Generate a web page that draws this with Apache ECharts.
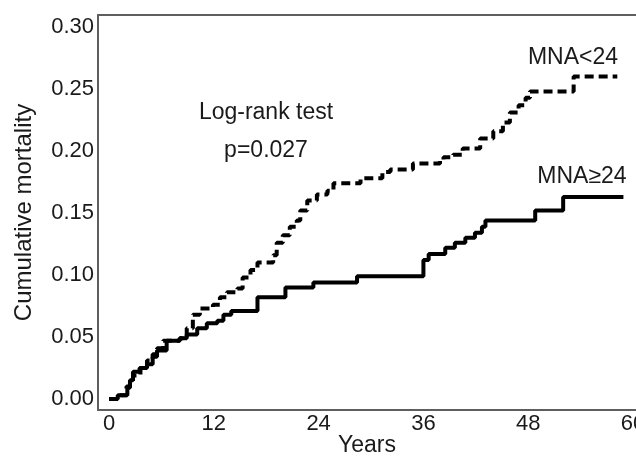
<!DOCTYPE html>
<html>
<head>
<meta charset="utf-8">
<script src="https://cdn.jsdelivr.net/npm/echarts@6/dist/echarts.min.js"></script>
<style>
html,body{margin:0;padding:0;background:#fff;}
#chart{width:636px;height:457px;}
</style>
</head>
<body>
<div id="chart"></div>
<script>
// Tick labels
var xTicks = [0, 12, 24, 36, 48, 60];
var yTicks = [0, 0.05, 0.10, 0.15, 0.20, 0.25, 0.30];

// MNA>=24 (solid) : event times (months) and cumulative mortality
var highTimes = [0, 1.0, 2.1, 2.4, 2.75, 3.5, 4.35, 5.0, 5.5, 6.6, 8.1, 8.9, 10.1, 11.2, 12.4, 13.1, 14.0, 17.0, 20.2, 23.4, 28.4, 36.0, 36.6, 38.5, 39.6, 40.8, 41.9, 42.7, 43.1, 48.8, 52.0, 58.9];
var highValues = [0, 0.003, 0.009, 0.015, 0.022, 0.025, 0.028, 0.034, 0.039, 0.047, 0.049, 0.052, 0.057, 0.061, 0.063, 0.068, 0.071, 0.082, 0.090, 0.094, 0.099, 0.112, 0.117, 0.122, 0.126, 0.130, 0.134, 0.139, 0.144, 0.152, 0.163, 0.163];

// MNA<24 (dashed)
var lowTimes = [0, 1.3, 2.0, 2.4, 2.75, 3.6, 4.35, 5.0, 5.5, 6.2, 8.1, 8.9, 9.6, 10.4, 11.9, 12.7, 13.5, 14.7, 15.3, 16.2, 17.0, 18.8, 19.2, 19.9, 20.7, 21.5, 21.9, 22.7, 23.8, 25.0, 25.7, 28.8, 31.3, 32.2, 34.8, 37.9, 38.3, 39.4, 40.5, 42.5, 44.0, 45.1, 45.9, 46.9, 47.7, 48.2, 53.2, 58.2];
var lowValues = [0, 0.003, 0.010, 0.014, 0.019, 0.025, 0.031, 0.036, 0.041, 0.047, 0.049, 0.057, 0.068, 0.073, 0.076, 0.082, 0.086, 0.089, 0.098, 0.104, 0.110, 0.116, 0.126, 0.132, 0.139, 0.144, 0.152, 0.160, 0.165, 0.168, 0.174, 0.178, 0.183, 0.185, 0.190, 0.193, 0.195, 0.197, 0.202, 0.210, 0.216, 0.223, 0.231, 0.237, 0.243, 0.248, 0.260, 0.260];

var seriesNames = ['MNA<24', 'MNA\u226524'];
var testTitle = 'Log-rank test';
var testP = 'p=0.027';

function pairs(t, v) { return t.map(function (x, i) { return [x, v[i]]; }); }

var FONT = '"Liberation Sans", Arial, sans-serif';
var TXT = '#1a1a1a';
var AX = '#5e5e5e';

var chart = echarts.init(document.getElementById('chart'), null, {renderer: 'canvas'});
chart.setOption({
  animation: false,
  backgroundColor: '#fff',
  grid: {left: 98, right: 0, top: 15, bottom: 47, containLabel: false, outerBoundsMode: 'none'},
  xAxis: [{
    type: 'value', min: -1.26, max: 60.34,
    name: 'Years', nameLocation: 'middle', nameGap: 24, nameMoveOverlap: false,
    nameTextStyle: {fontFamily: FONT, fontSize: 23, color: TXT},
    axisLine: {show: true, onZero: false, lineStyle: {color: AX, width: 2}},
    axisTick: {show: false},
    splitLine: {show: false},
    axisLabel: {customValues: xTicks, margin: 3, fontFamily: FONT, fontSize: 22, color: TXT, showMinLabel: true, showMaxLabel: true, hideOverlap: false}
  }, {
    type: 'value', position: 'top', min: -1.26, max: 60.34,
    axisLine: {show: true, onZero: false, lineStyle: {color: AX, width: 2}},
    axisTick: {show: false}, axisLabel: {show: false}, splitLine: {show: false}
  }],
  yAxis: {
    type: 'value', min: -0.0089, max: 0.3097,
    name: 'Cumulative mortality', nameLocation: 'middle', nameGap: 62, nameRotate: 90, nameMoveOverlap: false,
    nameTextStyle: {fontFamily: FONT, fontSize: 24, color: TXT},
    axisLine: {show: true, onZero: false, lineStyle: {color: AX, width: 2}},
    axisTick: {show: false},
    splitLine: {show: false},
    axisLabel: {customValues: yTicks, margin: 4, fontFamily: FONT, fontSize: 22, color: TXT,
      formatter: function (v) { return v.toFixed(2); }}
  },
  series: [{
    name: seriesNames[0], type: 'line', step: 'end', showSymbol: false, symbol: 'none',
    data: pairs(lowTimes, lowValues),
    lineStyle: {color: '#000', width: 4, type: [9, 5], cap: 'butt'}
  }, {
    name: seriesNames[1], type: 'line', step: 'end', showSymbol: false, symbol: 'none',
    data: pairs(highTimes, highValues),
    lineStyle: {color: '#000', width: 4, type: 'solid'}
  }],
  graphic: [
    {type: 'text', x: 266, y: 113, style: {text: testTitle, fontFamily: FONT, fontSize: 23, fill: TXT, textAlign: 'center', textVerticalAlign: 'middle'}},
    {type: 'text', x: 266, y: 151, style: {text: testP, fontFamily: FONT, fontSize: 23, fill: TXT, textAlign: 'center', textVerticalAlign: 'middle'}},
    {type: 'text', x: 573, y: 58, style: {text: seriesNames[0], fontFamily: FONT, fontSize: 23, fill: TXT, textAlign: 'center', textVerticalAlign: 'middle'}},
    {type: 'text', x: 582, y: 177, style: {text: seriesNames[1], fontFamily: FONT, fontSize: 23, fill: TXT, textAlign: 'center', textVerticalAlign: 'middle'}}
  ]
});
</script>
</body>
</html>
